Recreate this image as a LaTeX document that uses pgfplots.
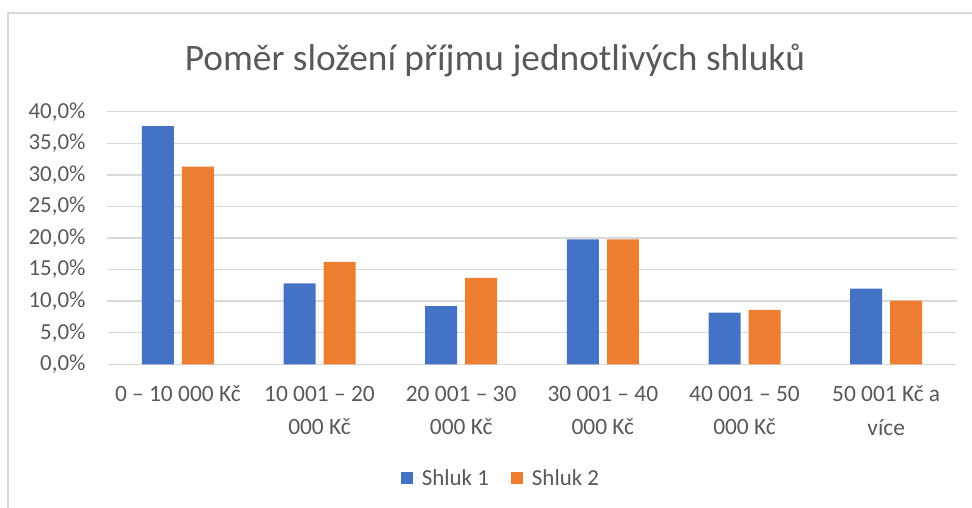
\documentclass[border=0pt]{standalone}
\usepackage{pgfplots}
\pgfplotsset{compat=1.18}
\usepackage{fontspec}
\setmainfont{Carlito}
\definecolor{txt}{RGB}{89,89,89}
\definecolor{gridc}{RGB}{217,217,217}
\definecolor{blue1}{RGB}{68,114,196}
\definecolor{orange1}{RGB}{237,125,49}
\begin{document}
\begin{tikzpicture}
\useasboundingbox (0,0) rectangle (972bp,508bp);
\fill[white] (0,0) rectangle (972bp,508bp);
\draw[gridc, line width=1.5bp] (8bp,0) -- (8bp,495bp) -- (972bp,495bp);
\node[text=txt, font=\fontsize{37.5}{42}\selectfont] at (495bp,448bp) {Poměr složení příjmu jednotlivých shluků};
\begin{axis}[
  at={(107bp,143.7bp)}, anchor=south west,
  scale only axis, width=850bp, height=252.6bp,
  ybar, bar width=32bp,
  ymin=0, ymax=40,
  xmin=-0.5, xmax=5.5,
  xtick={0,1,2,3,4,5},
  xticklabels={0 – 10 000 Kč, {10 001 – 20\\000 Kč}, {20 001 – 30\\000 Kč}, {30 001 – 40\\000 Kč}, {40 001 – 50\\000 Kč}, {50 001 Kč a\\více}},
  xticklabel style={align=center, text=txt, font=\fontsize{23.5}{33.5}\selectfont, anchor=north, yshift=-18bp},
  ytick={0,5,...,40},
  yticklabels={{0,0\%},{5,0\%},{10,0\%},{15,0\%},{20,0\%},{25,0\%},{30,0\%},{35,0\%},{40,0\%}},
  yticklabel style={text=txt, font=\fontsize{23}{26}\selectfont, anchor=east, xshift=-18bp},
  major tick length=0pt,
  ymajorgrids, grid style={gridc, line width=1.5bp},
  axis line style={draw=none},
  axis x line*=bottom,
  legend columns=2,
  legend style={at={(0.4635,-0.450)}, anchor=center, draw=none, fill=none,
    font=\fontsize{23}{26}\selectfont, text=txt,
    /tikz/every even column/.append style={column sep=20bp}},
  legend image code/.code={\fill[#1] (0bp,-6bp) rectangle (12bp,6bp); \path (0bp,0bp) -- (19bp,0bp);},
]
\addplot[fill=blue1, draw=none, bar shift=-20bp] coordinates {(0,37.7) (1,12.8) (2,9.2) (3,19.8) (4,8.2) (5,12.0)};
\addplot[fill=orange1, draw=none, bar shift=20bp] coordinates {(0,31.3) (1,16.2) (2,13.7) (3,19.8) (4,8.6) (5,10.1)};
\legend{Shluk 1, Shluk 2}
\end{axis}
\end{tikzpicture}
\end{document}
